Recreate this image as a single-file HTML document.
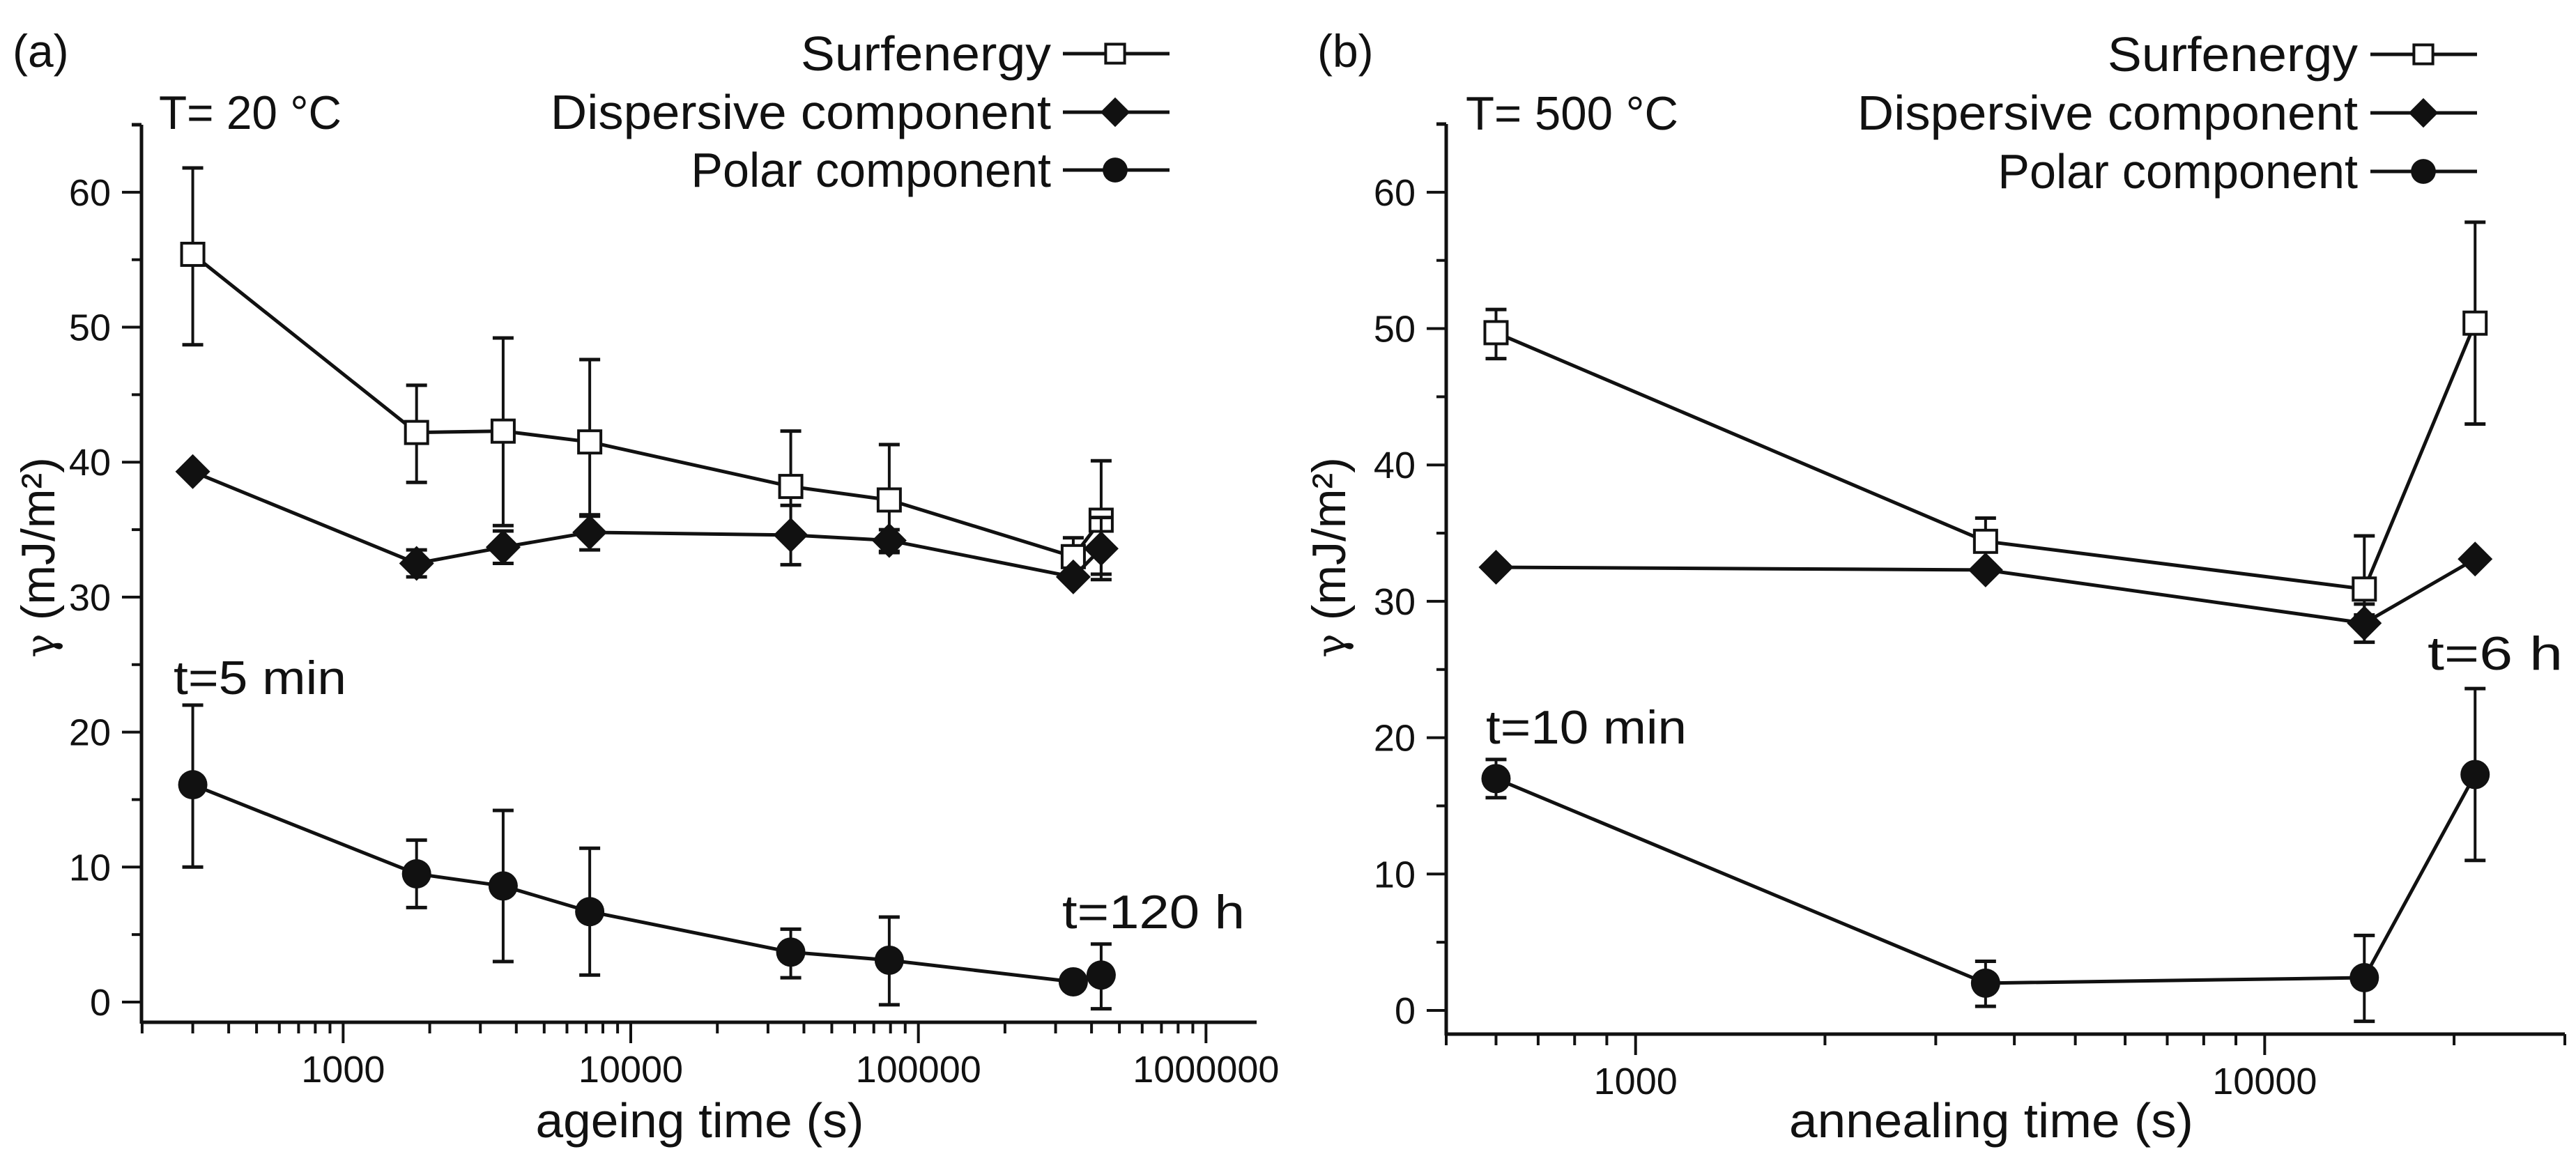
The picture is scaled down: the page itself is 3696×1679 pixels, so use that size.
<!DOCTYPE html>
<html><head><meta charset="utf-8"><style>
html,body{margin:0;padding:0;background:#fff;}
svg{display:block;font-family:"Liberation Sans",sans-serif;}
</style></head><body>
<svg id="chart" width="3696" height="1679" viewBox="0 0 3696 1679" xmlns="http://www.w3.org/2000/svg">
<rect width="3696" height="1679" fill="#fff"/>
</svg>
<script>
// Panel (a) data: ageing at 20 °C
const aTimes = [300, 1800, 3600, 7200, 36000, 79200, 345600, 432000];
const aSurf = [55.4, 42.2, 42.3, 41.5, 38.2, 37.2, 33.0, 35.7];
const aSurfHi = [61.8, 45.7, 49.2, 47.6, 42.3, 41.3, 34.4, 40.1];
const aSurfLo = [48.7, 38.5, 35.3, 36.0, 34.4, 33.3, 31.7, 31.7];
const aDisp = [39.3, 32.5, 33.7, 34.8, 34.6, 34.2, 31.5, 33.6];
const aDispHi = [39.3, 33.5, 34.9, 36.1, 36.8, 35.0, 31.5, 35.9];
const aDispLo = [39.3, 31.5, 32.5, 33.5, 32.4, 33.4, 31.5, 31.3];
const aPolar = [16.1, 9.5, 8.6, 6.7, 3.7, 3.1, 1.5, 2.0];
const aPolarHi = [22.0, 12.0, 14.2, 11.4, 5.4, 6.3, 1.5, 4.3];
const aPolarLo = [10.0, 7.0, 3.0, 2.0, 1.8, -0.2, 1.5, -0.5];
// Panel (b) data: annealing at 500 °C
const bTimes = [600, 3600, 14400, 21600];
const bSurf = [49.7, 34.4, 30.9, 50.4];
const bSurfHi = [51.4, 36.1, 34.8, 57.8];
const bSurfLo = [47.8, 32.7, 29.0, 43.0];
const bDisp = [32.5, 32.3, 28.4, 33.1];
const bDispHi = [32.5, 32.3, 29.8, 33.1];
const bDispLo = [32.5, 32.3, 27.0, 33.1];
const bPolar = [17.0, 2.0, 2.4, 17.3];
const bPolarHi = [18.4, 3.6, 5.5, 23.6];
const bPolarLo = [15.6, 0.3, -0.8, 11.0];
const yTicks = [0, 10, 20, 30, 40, 50, 60];
const aXTicks = [1000, 10000, 100000, 1000000];
const bXTicks = [1000, 10000];

const NS = "http://www.w3.org/2000/svg";
const svg = document.getElementById('chart');
function mk(tag, attrs, parent, name) {
  const e = document.createElementNS(NS, tag);
  for (const k in attrs) e.setAttribute(k, attrs[k]);
  
  
  (parent || svg).appendChild(e);
  return e;
}
function txt(s, attrs, parent, name) { const t = mk('text', attrs, parent, name); t.textContent = s; return t; }

function panel(cfg) {
  const g = mk('g', {}, svg, cfg.id + '-panel');
  const X = v => cfg.x0 + (Math.log10(v) - Math.log10(cfg.xmin)) / (Math.log10(cfg.xmax) - Math.log10(cfg.xmin)) * (cfg.x1 - cfg.x0);
  const Y = v => cfg.y0 - (v - 0) * (cfg.y0 - cfg.yTop) / 65 ;
  const axis = mk('g', {stroke: '#111', 'stroke-width': 5, fill: 'none'}, g, cfg.id + '-axes');
  mk('line', {x1: cfg.x0, y1: cfg.yAxis, x2: cfg.x1, y2: cfg.yAxis}, axis, 'x-axis-line');
  mk('line', {x1: cfg.x0, y1: cfg.yTop, x2: cfg.x0, y2: cfg.yAxis + 2}, axis, 'y-axis-line');
  mk('line', {x1: cfg.x0 - 14, y1: cfg.yTop, x2: cfg.x0, y2: cfg.yTop}, axis, 'y-axis-top-tick');
  // y ticks
  for (let v = 0; v <= 65; v += 5) {
    const major = v % 10 === 0;
    mk('line', {x1: cfg.x0 - (major ? 28 : 14), y1: Y(v), x2: cfg.x0, y2: Y(v), 'stroke-width': major ? 4 : 4}, axis, major ? 'y-major-tick' : 'y-minor-tick');
  }
  yTicks.forEach(v => {
    const t = txt(String(v), {x: cfg.x0 - 44, y: Y(v) + 19, 'font-size': 54, 'text-anchor': 'end', fill: '#111'}, g, 'y-tick-label');
  });
  // x ticks
  const lo = Math.floor(Math.log10(cfg.xmin)), hi = Math.ceil(Math.log10(cfg.xmax));
  for (let d = lo; d <= hi; d++) {
    for (let m = 1; m <= 9; m++) {
      const v = m * Math.pow(10, d);
      if (v < cfg.xmin * 0.999 || v > cfg.xmax * 1.001) continue;
      const major = m === 1;
      mk('line', {x1: X(v), y1: cfg.yAxis, x2: X(v), y2: cfg.yAxis + (major ? 30 : 16), 'stroke-width': 4}, axis, major ? 'x-major-tick' : 'x-minor-tick');
    }
  }
  cfg.xticks.forEach(v => {
    txt(String(v), {x: X(v), y: cfg.yAxis + 86, 'font-size': 54, 'text-anchor': 'middle', fill: '#111'}, g, 'x-tick-label');
  });
  txt(cfg.xlabel, {x: cfg.xlabelX, y: 1632, 'font-size': 70, 'text-anchor': 'middle', fill: '#111', textLength: cfg.xlabelW, lengthAdjust: 'spacingAndGlyphs'}, g, 'x-axis-title');
  const yl = txt('', {x: 0, y: 0, 'font-size': 68, 'text-anchor': 'middle', fill: '#111', transform: 'translate(' + cfg.ylabelX + ',800) rotate(-90)'}, g, 'y-axis-title');
  yl.innerHTML = '<tspan font-size="58" font-family="DejaVu Serif, serif">γ</tspan> (mJ/m²)';

  const series = [
    {name: 'surfenergy', v: cfg.surf, hi: cfg.surfHi, lo: cfg.surfLo, mark: 'sq'},
    {name: 'dispersive', v: cfg.disp, hi: cfg.dispHi, lo: cfg.dispLo, mark: 'dm'},
    {name: 'polar', v: cfg.polar, hi: cfg.polarHi, lo: cfg.polarLo, mark: 'ci'}
  ];
  series.forEach(s => {
    const sg = mk('g', {}, g, s.name + '-series');
    const pts = cfg.t.map((t, i) => X(t) + ',' + Y(s.v[i])).join(' ');
    mk('polyline', {points: pts, fill: 'none', stroke: '#111', 'stroke-width': 5}, sg, s.name + '-line');
    cfg.t.forEach((t, i) => {
      if (s.hi[i] - s.lo[i] > 0.3) {
        const x = X(t);
        mk('line', {x1: x, y1: Y(s.hi[i]), x2: x, y2: Y(s.lo[i]), stroke: '#111', 'stroke-width': 4}, sg, s.name + '-error-bar');
        mk('line', {x1: x - 15, y1: Y(s.hi[i]), x2: x + 15, y2: Y(s.hi[i]), stroke: '#111', 'stroke-width': 5}, sg, s.name + '-error-cap');
        mk('line', {x1: x - 15, y1: Y(s.lo[i]), x2: x + 15, y2: Y(s.lo[i]), stroke: '#111', 'stroke-width': 5}, sg, s.name + '-error-cap');
      }
    });
    cfg.t.forEach((t, i) => drawMarker(s.mark, X(t), Y(s.v[i]), sg, s.name + '-marker', 1));
  });
  // legend
  const lg = mk('g', {}, g, cfg.id + '-legend');
  const rows = [['Surfenergy', 'sq', 285], ['Dispersive component', 'dm', 570], ['Polar component', 'ci', 410]];
  rows.forEach((r, i) => {
    const y = cfg.legY[i];
    txt(r[0], {x: cfg.legTextR, y: y + 24, 'font-size': 70, 'text-anchor': 'end', fill: '#111', textLength: r[2] * 1.26, lengthAdjust: 'spacingAndGlyphs'}, lg, 'legend-label');
    mk('line', {x1: cfg.legL1, y1: y, x2: cfg.legL2, y2: y, stroke: '#111', 'stroke-width': 5}, lg, 'legend-line');
    drawMarker(r[1], cfg.legC, y, lg, 'legend-marker', 0.85);
  });
  txt(cfg.panelLabel, {x: cfg.plX, y: 96, 'font-size': 66, fill: '#111'}, g, 'panel-label');
  cfg.notes.forEach(n => txt(n[0], {x: n[1], y: n[2] + 24, 'font-size': 68, fill: '#111', textLength: n[3], lengthAdjust: 'spacingAndGlyphs'}, g, 'annotation'));
}
function drawMarker(kind, x, y, parent, name, s) {
  if (kind === 'sq') mk('rect', {x: x - 16 * s, y: y - 16 * s, width: 32 * s, height: 32 * s, fill: '#fff', stroke: '#111', 'stroke-width': 4}, parent, name);
  else if (kind === 'dm') mk('polygon', {points: [x, y - 25 * s, x + 25 * s, y, x, y + 25 * s, x - 25 * s, y].join(' ').replace(/(\S+) (\S+)/g, '$1,$2'), fill: '#111'}, parent, name);
  else mk('circle', {cx: x, cy: y, r: 21 * s, fill: '#111'}, parent, name);
}

panel({id: 'a', x0: 203, x1: 1803, xmin: 199, xmax: 1500000, y0: 1438, yTop: 179, yAxis: 1467,
  t: aTimes, surf: aSurf, surfHi: aSurfHi, surfLo: aSurfLo, disp: aDisp, dispHi: aDispHi, dispLo: aDispLo,
  polar: aPolar, polarHi: aPolarHi, polarLo: aPolarLo, xticks: aXTicks,
  xlabel: 'ageing time (s)', xlabelX: 1004, xlabelW: 471, ylabelX: 78,
  legY: [77, 161, 244], legTextR: 1508, legL1: 1525, legL2: 1678, legC: 1600,
  panelLabel: '(a)', plX: 18,
  notes: [['T= 20 °C', 228, 161, 262], ['t=5 min', 249, 972, 248], ['t=120 h', 1524, 1308, 262]]});
panel({id: 'b', x0: 2075, x1: 3680, xmin: 500, xmax: 30000, y0: 1450, yTop: 178, yAxis: 1484,
  t: bTimes, surf: bSurf, surfHi: bSurfHi, surfLo: bSurfLo, disp: bDisp, dispHi: bDispHi, dispLo: bDispLo,
  polar: bPolar, polarHi: bPolarHi, polarLo: bPolarLo, xticks: bXTicks,
  xlabel: 'annealing time (s)', xlabelX: 2857, xlabelW: 580, ylabelX: 1930,
  legY: [78, 162, 246], legTextR: 3383, legL1: 3401, legL2: 3554, legC: 3477,
  panelLabel: '(b)', plX: 1890,
  notes: [['T= 500 °C', 2103, 162, 305], ['t=10 min', 2132, 1043, 288], ['t=6 h', 3483, 937, 194]]});
</script>
</body></html>
